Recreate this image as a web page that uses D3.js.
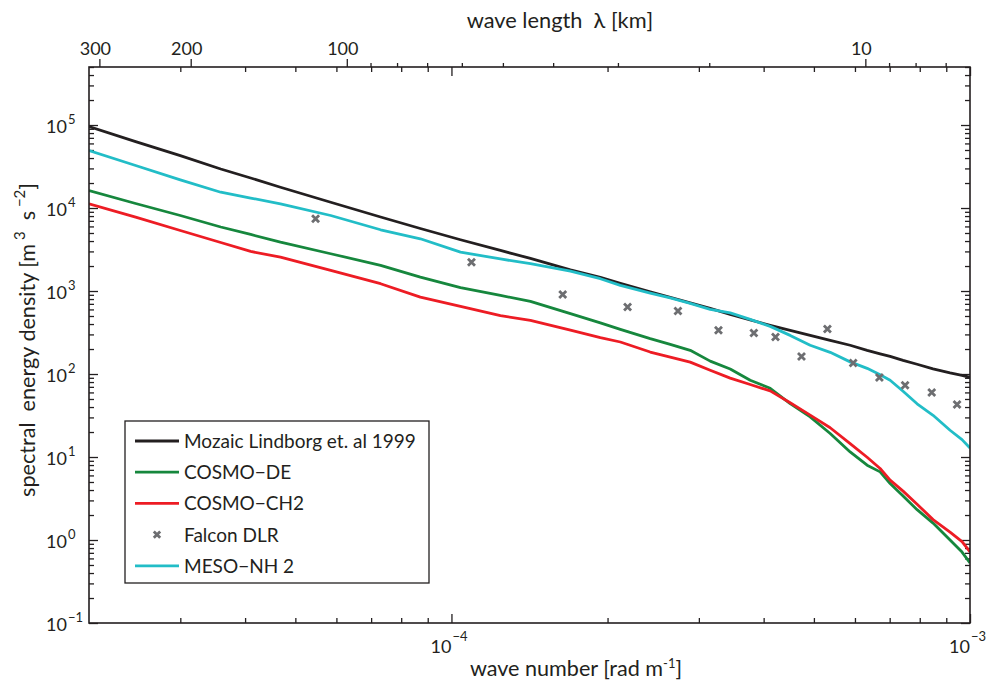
<!DOCTYPE html>
<html>
<head>
<meta charset="utf-8">
<script src="https://d3js.org/d3.v7.min.js"></script>
<style>
    body { margin: 0; background: #fff; }
    svg text { font-family: Lato, "Open Sans", sans-serif; fill: #231f20; }
</style>
</head>
<body>
<svg id="chart" width="989" height="682"></svg>
<script>
// wave number [rad/m] where the model curves were read
var waveNumber = [2.0e-5, 2.46e-5, 3.0e-5, 3.59e-5, 4.10e-5, 4.68e-5, 5.85e-5, 7.30e-5, 8.71e-5,
    1.041e-4, 1.243e-4, 1.420e-4, 1.696e-4, 1.937e-4, 2.117e-4, 2.417e-4, 2.642e-4, 2.887e-4,
    3.155e-4, 3.448e-4, 3.768e-4, 4.118e-4, 4.500e-4, 4.918e-4, 5.375e-4, 5.873e-4, 6.333e-4,
    6.709e-4, 7.014e-4, 7.429e-4, 7.906e-4, 8.487e-4, 9.152e-4, 9.652e-4, 1.0e-3]

var mozaic = [9.57e4, 6.31e4, 4.28e4, 2.95e4, 2.30e4, 1.78e4, 1.174e4, 7794, 5667,
    4143, 3081, 2468, 1795, 1458, 1234, 975, 838, 719,
    617, 523, 449, 386, 336, 292, 254, 222, 193,
    175, 163, 146, 131, 115.5, 103.4, 96.5, 91.3]

var cosmoDE = [1.624e4, 1.133e4, 8124, 5907, 4799, 3877, 2811, 2033, 1470,
    1096, 885, 750, 533, 413, 345, 267, 228, 193,
    143, 115, 84, 67.3, 44.0, 30.4, 19.2, 11.5, 7.96,
    6.62, 4.80, 3.38, 2.32, 1.60, 0.997, 0.715, 0.531]

var cosmoCH2 = [1.123e4, 7751, 5361, 3844, 2996, 2558, 1770, 1224, 845,
    653, 504, 443, 338, 275, 243, 184, 160, 139,
    111, 89.3, 74.7, 62.6, 45.1, 32.0, 22.5, 14.5, 9.94,
    7.27, 5.26, 3.88, 2.70, 1.76, 1.245, 0.957, 0.721]

var mesoNH2 = [4.92e4, 3.25e4, 2.185e4, 1.549e4, 1.319e4, 1.123e4, 8124, 5467, 4260,
    2939, 2434, 2131, 1736, 1406, 1168, 944, 826, 709,
    601, 545, 455, 375, 292, 222, 182.5, 140, 117,
    97.8, 84.0, 61.9, 43.8, 31.8, 21.0, 16.2, 12.8]

// Falcon DLR measurements
var falconK = [5.47e-5, 1.093e-4, 1.639e-4, 2.186e-4, 2.734e-4, 3.273e-4, 3.830e-4, 4.216e-4,
    4.732e-4, 5.309e-4, 5.952e-4, 6.688e-4, 7.496e-4, 8.437e-4, 9.441e-4]
var falconE = [7413, 2227, 910, 640, 573, 336, 311, 279, 163, 348, 136, 90.5, 73.1, 59.7, 42.8]

var yTickExp = [-1, 0, 1, 2, 3, 4, 5]
var xTickExp = [-4, -3]
var lambdaLabels = [300, 200, 100, 10]
var lambdaMinor = [90, 80, 70, 60, 50, 40, 30, 20, 9, 8, 7]

var series = [
    { name: 'Mozaic Lindborg et. al 1999', values: mozaic, color: '#231f20' },
    { name: 'COSMO\u2212DE', values: cosmoDE, color: '#16873d' },
    { name: 'COSMO\u2212CH2', values: cosmoCH2, color: '#ed1c24' },
    { name: 'Falcon DLR', marker: true, color: '#6d6e71' },
    { name: 'MESO\u2212NH 2', values: mesoNH2, color: '#22bdc7' }
]

var svg = d3.select('#chart')
var pLeft = 89, pRight = 970, pTop = 67, pBottom = 623

var x = d3.scaleLog().domain([2e-5, 1e-3]).range([pLeft, pRight])
var y = d3.scaleLog().domain([0.1, 5e5]).range([pBottom, pTop])

function minors(lo, hi) {
    var out = []
    for (var e = lo; e <= hi; e++)
        for (var m = 2; m <= 9; m++) out.push(m * Math.pow(10, e))
    return out
}
var xMinor = minors(-5, -4).filter(function(v) { return v > 2.01e-5 && v < 1e-3 })
var yMinor = minors(-1, 5).filter(function(v) { return v <= 5e5 })
var xMajor = xTickExp.map(function(e) { return Math.pow(10, e) })
var yMajor = yTickExp.map(function(e) { return Math.pow(10, e) })

function tickAxis(gen, scale, vals, size, tr) {
    var g = svg.append('g').attr('transform', tr)
        .call(gen(scale).tickValues(vals).tickSize(size).tickSizeOuter(0).tickFormat(''))
    g.select('.domain').remove()
    g.selectAll('line').attr('stroke', '#231f20').attr('stroke-width', 1.3)
    return g
}

// inward ticks on all four sides (matlab box)
tickAxis(d3.axisBottom, x, xMajor, -9, 'translate(0,' + pBottom + ')')
tickAxis(d3.axisBottom, x, xMinor, -5, 'translate(0,' + pBottom + ')')
tickAxis(d3.axisTop, x, xMajor, -9, 'translate(0,' + pTop + ')')
tickAxis(d3.axisTop, x, xMinor, -5, 'translate(0,' + pTop + ')')
tickAxis(d3.axisLeft, y, yMajor, -9, 'translate(' + pLeft + ',0)')
tickAxis(d3.axisLeft, y, yMinor, -5, 'translate(' + pLeft + ',0)')
tickAxis(d3.axisRight, y, yMajor, -9, 'translate(' + pRight + ',0)')
tickAxis(d3.axisRight, y, yMinor, -5, 'translate(' + pRight + ',0)')

// wave length axis on top: lambda [km] -> k = 2 pi / lambda
function lamToK(l) { return 2 * Math.PI / (l * 1000) }
tickAxis(d3.axisTop, x, lambdaLabels.map(lamToK), 8, 'translate(0,' + pTop + ')')
tickAxis(d3.axisTop, x, lambdaMinor.map(lamToK), 4, 'translate(0,' + pTop + ')')

svg.append('g').selectAll('text').data(lambdaLabels).enter().append('text')
    .attr('x', function(d) { return x(lamToK(d)) - 4 })
    .attr('y', 55)
    .attr('text-anchor', 'middle')
    .style('font-size', '18px')
    .text(function(d) { return d })

// y tick labels 10^n
var yl = svg.append('g').selectAll('g').data(yTickExp).enter().append('g')
yl.append('text')
    .attr('x', 67).attr('y', function(d) { return y(Math.pow(10, d)) + 8 })
    .attr('text-anchor', 'end').style('font-size', '18px').text('10')
yl.append('text')
    .attr('x', 68).attr('y', function(d) { return y(Math.pow(10, d)) - 1 })
    .style('font-size', '13px')
    .text(function(d) { return d < 0 ? '\u2212' + (-d) : d })

// x tick labels
var xl = svg.append('g').selectAll('g').data(xTickExp).enter().append('g')
xl.append('text')
    .attr('x', function(d) { return x(Math.pow(10, d)) }).attr('y', 653)
    .attr('text-anchor', 'end').style('font-size', '18px').text('10')
xl.append('text')
    .attr('x', function(d) { return x(Math.pow(10, d)) + 1 }).attr('y', 641)
    .style('font-size', '13px')
    .text(function(d) { return '\u2212' + (-d) })

// curves
var line = d3.line()
    .x(function(d) { return x(d[0]) })
    .y(function(d) { return y(d[1]) })

svg.append('defs').append('clipPath').attr('id', 'plotclip')
    .append('rect').attr('x', pLeft).attr('y', pTop).attr('width', pRight - pLeft).attr('height', pBottom - pTop)

var plot = svg.append('g').attr('clip-path', 'url(#plotclip)')
var drawOrder = [0, 4, 1, 2]
drawOrder.forEach(function(i) {
    var s = series[i]
    plot.append('path')
        .datum(d3.zip(waveNumber, s.values))
        .attr('fill', 'none')
        .attr('stroke', s.color)
        .attr('stroke-width', 2.8)
        .attr('stroke-linejoin', 'round')
        .attr('d', line)
})

function cross(sel, size) {
    sel.append('path')
        .attr('d', 'M' + (-size) + ',' + (-size) + 'L' + size + ',' + size +
            'M' + (-size) + ',' + size + 'L' + size + ',' + (-size))
        .attr('stroke', '#6d6e71')
        .attr('stroke-width', 2.8)
}

plot.selectAll('g.falcon').data(d3.zip(falconK, falconE)).enter().append('g')
    .classed('falcon', true)
    .attr('transform', function(d) { return 'translate(' + x(d[0]) + ',' + y(d[1]) + ')' })
    .call(cross, 3.5)

// frame
svg.append('rect')
    .attr('x', pLeft).attr('y', pTop).attr('width', pRight - pLeft).attr('height', pBottom - pTop)
    .attr('fill', 'none').attr('stroke', '#231f20').attr('stroke-width', 1.6)

// legend
var lg = svg.append('g')
lg.append('rect')
    .attr('x', 125).attr('y', 421).attr('width', 304).attr('height', 162)
    .attr('fill', '#fff').attr('stroke', '#231f20').attr('stroke-width', 1.3)
series.forEach(function(s, i) {
    var ly = 441 + i * 31.2
    if (s.marker) {
        lg.append('g').attr('transform', 'translate(157,' + ly + ')').call(cross, 3.2)
    } else {
        lg.append('line').attr('x1', 135).attr('x2', 179).attr('y1', ly).attr('y2', ly)
            .attr('stroke', s.color).attr('stroke-width', 2.8)
    }
    lg.append('text').attr('x', 184).attr('y', ly + 7).style('font-size', '19px').text(s.name)
})

// axis titles
svg.append('text').attr('x', 560).attr('y', 28).attr('text-anchor', 'middle')
    .style('font-size', '21.8px').text('wave length \u00a0\u03bb [km]')

var xt = svg.append('text').attr('x', 576).attr('y', 676).attr('text-anchor', 'middle')
    .style('font-size', '21.6px')
xt.append('tspan').text('wave number [rad m')
xt.append('tspan').attr('dy', -8).style('font-size', '13px').text('-1')
xt.append('tspan').attr('dy', 8).text(']')

var yt = svg.append('text')
    .attr('transform', 'translate(35,340) rotate(-90)')
    .attr('text-anchor', 'middle').style('font-size', '21.6px')
yt.append('tspan').text('spectral \u00a0energy density [m')
yt.append('tspan').attr('dy', -10).style('font-size', '15px').text('\u00a03')
yt.append('tspan').attr('dy', 10).text('\u00a0 s')
yt.append('tspan').attr('dy', -10).style('font-size', '15px').text('\u00a0\u22122')
yt.append('tspan').attr('dy', 10).text(']')
</script>
</body>
</html>
